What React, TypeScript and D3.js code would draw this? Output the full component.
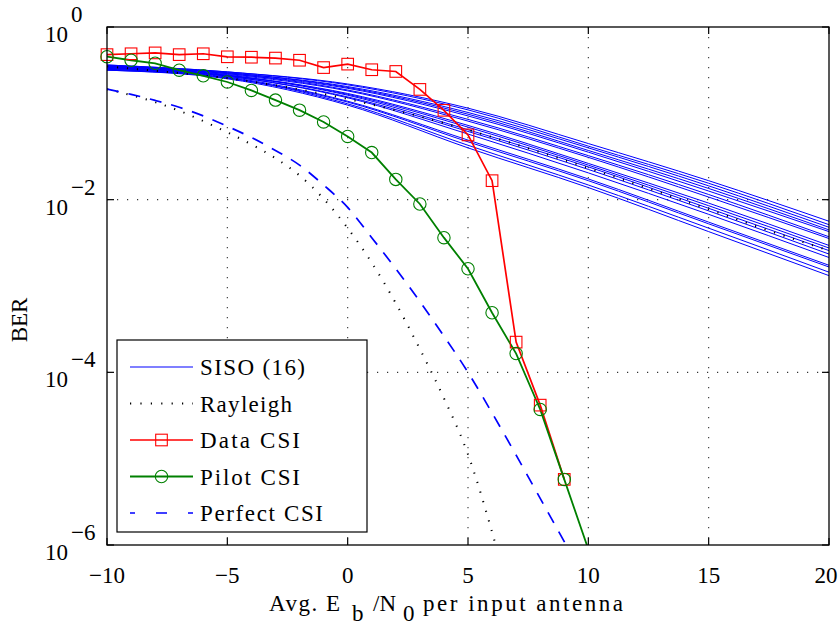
import React from "react";
import * as d3 from "d3";

// ---------- data (log10 of BER) ----------
const MARK_SNR = [-10, -9, -8, -7, -6, -5, -4, -3, -2, -1, 0, 1, 2, 3, 4, 5, 6, 7, 8, 9];
const DATA_CSI = [-0.32, -0.31, -0.3, -0.32, -0.31, -0.345, -0.35, -0.36, -0.385, -0.47, -0.43, -0.495, -0.515, -0.723, -0.965, -1.25, -1.78, -3.65, -4.38, -5.24];

const PILOT_SNR = [-10, -9, -8, -7, -6, -5, -4, -3, -2, -1, 0, 1, 2, 3, 4, 5, 6, 7, 8, 9, 10];
const PILOT_CSI = [-0.344, -0.385, -0.42, -0.5, -0.565, -0.637, -0.735, -0.847, -0.963, -1.1, -1.268, -1.454, -1.765, -2.05, -2.44, -2.8, -3.31, -3.783, -4.43, -5.24, -6.05];

const PERFECT_SNR = [-10, -9, -8, -7, -6, -5, -4, -3, -2, -1, 0, 1, 2, 3, 4, 5, 6, 7, 8, 9, 9.2];
const PERFECT_CSI = [-0.72, -0.78, -0.85, -0.93, -1.03, -1.15, -1.28, -1.43, -1.6, -1.83, -2.09, -2.44, -2.8, -3.18, -3.58, -4.0, -4.47, -4.96, -5.46, -5.96, -6.06];

const RAYLEIGH_DIV_SNR = [-10, -9, -8, -7, -6, -5, -4, -3, -2, -1, 0, 1, 2, 3, 4, 5, 6, 6.3];
const RAYLEIGH_DIV = [-0.72, -0.79, -0.87, -0.97, -1.09, -1.22, -1.36, -1.52, -1.72, -1.99, -2.33, -2.73, -3.2, -3.73, -4.3, -4.95, -5.85, -6.15];

const RAYLEIGH_SISO_SNR = [-10, -7.5, -5, -2.5, 0, 2.5, 5, 7.5, 10, 12.5, 15, 17.5, 20];
const RAYLEIGH_SISO = [-0.457, -0.52, -0.593, -0.699, -0.834, -1.0, -1.192, -1.406, -1.633, -1.87, -2.112, -2.358, -2.59];

const SISO_SNR = [-10, -5, 0, 5, 10, 15, 20];
const SISO_1 = [-0.44, -0.52, -0.66, -0.94, -1.35, -1.78, -2.25];
const SISO_2 = [-0.44, -0.52, -0.67, -0.96, -1.38, -1.81, -2.29];
const SISO_3 = [-0.45, -0.53, -0.69, -0.99, -1.4, -1.84, -2.32];
const SISO_4 = [-0.45, -0.53, -0.7, -1.01, -1.43, -1.87, -2.35];
const SISO_5 = [-0.45, -0.54, -0.71, -1.03, -1.45, -1.9, -2.37];
const SISO_6 = [-0.46, -0.54, -0.73, -1.07, -1.49, -1.94, -2.43];
const SISO_7 = [-0.46, -0.55, -0.74, -1.09, -1.51, -1.97, -2.45];
const SISO_8 = [-0.47, -0.56, -0.77, -1.14, -1.58, -2.04, -2.53];
const SISO_9 = [-0.47, -0.56, -0.78, -1.16, -1.6, -2.07, -2.56];
const SISO_10 = [-0.47, -0.56, -0.79, -1.19, -1.62, -2.1, -2.59];
const SISO_11 = [-0.48, -0.57, -0.81, -1.21, -1.65, -2.13, -2.63];
const SISO_12 = [-0.48, -0.57, -0.82, -1.24, -1.69, -2.17, -2.67];
const SISO_13 = [-0.49, -0.58, -0.86, -1.31, -1.76, -2.26, -2.76];
const SISO_14 = [-0.49, -0.59, -0.87, -1.33, -1.78, -2.28, -2.78];
const SISO_15 = [-0.5, -0.59, -0.89, -1.37, -1.83, -2.33, -2.84];
const SISO_16 = [-0.5, -0.6, -0.905, -1.4, -1.86, -2.37, -2.88];
const SISO_ALL = [SISO_1, SISO_2, SISO_3, SISO_4, SISO_5, SISO_6, SISO_7, SISO_8, SISO_9, SISO_10, SISO_11, SISO_12, SISO_13, SISO_14, SISO_15, SISO_16];

const X_TICKS = [-10, -5, 0, 5, 10, 15, 20];
const Y_TICK_EXP = [0, -2, -4, -6];
const LEGEND_LABELS = ["SISO (16)", "Rayleigh", "Data CSI", "Pilot CSI", "Perfect CSI"];
const LEGEND_WIDTHS = [105, 92, 100, 100, 123];

// ---------- layout ----------
const W = 838, H = 630;
const L = 107, R = 829, T = 27, B = 545;
const FONT = "Liberation Serif, DejaVu Serif, Times New Roman, serif";
const FS = 23;

const x = d3.scaleLinear().domain([-10, 20]).range([L, R]);
const y = d3.scaleLog().domain([1e-6, 1]).range([B, T]);

type P = [number, number];
const pts = (xs: number[], es: number[]): P[] => xs.map((v, i) => [v, es[i]]);
const lineLin = d3.line<P>().x(d => x(d[0])).y(d => y(Math.pow(10, d[1])));
const lineSmooth = d3.line<P>().x(d => x(d[0])).y(d => y(Math.pow(10, d[1]))).curve(d3.curveMonotoneX);

const fmtMinus = (n: number) => (n < 0 ? "\u2212" + Math.abs(n) : String(n));

export default function App() {
  const legendX = 117, legendY = 340, legendW = 250, legendH = 192;
  const rowY = (i: number) => 367 + i * 36.5;
  const s0 = 130, s1 = 193, sm = (s0 + s1) / 2;
  const txt = { fontFamily: FONT, fontSize: FS, fill: "#000" } as React.CSSProperties;

  return (
    <svg width={W} height={H} style={{ position: "absolute", left: 0, top: 0, background: "#fff" }}>
      <defs>
        <clipPath id="plot">
          <rect x={L} y={T} width={R - L} height={B - T} />
        </clipPath>
      </defs>
      <rect x={0} y={0} width={W} height={H} fill="#fff" />

      {/* grid */}
      {X_TICKS.slice(1, -1).map(t => (
        <line key={"gx" + t} x1={x(t)} x2={x(t)} y1={T} y2={B} stroke="#333" strokeWidth={1.1} strokeDasharray="1.2 8.8" />
      ))}
      {Y_TICK_EXP.slice(1, -1).map(e => (
        <line key={"gy" + e} x1={L} x2={R} y1={y(Math.pow(10, e))} y2={y(Math.pow(10, e))} stroke="#333" strokeWidth={1.1} strokeDasharray="1.2 8.8" />
      ))}

      <g clipPath="url(#plot)" fill="none">
        {SISO_ALL.map((s, i) => (
          <path key={"siso" + i} d={lineSmooth(pts(SISO_SNR, s)) || ""} stroke="#0000ff" strokeWidth={1} />
        ))}
        <path d={lineSmooth(pts(RAYLEIGH_SISO_SNR, RAYLEIGH_SISO)) || ""} stroke="#000" strokeWidth={2} strokeDasharray="1.2 8.8" />
        <path d={lineSmooth(pts(RAYLEIGH_DIV_SNR, RAYLEIGH_DIV)) || ""} stroke="#000" strokeWidth={2} strokeDasharray="1.2 8.8" />
        <path d={lineLin(pts(MARK_SNR, DATA_CSI)) || ""} stroke="#ff0000" strokeWidth={1.7} />
        <path d={lineLin(pts(PILOT_SNR, PILOT_CSI)) || ""} stroke="#008000" strokeWidth={1.8} />
        <path d={lineSmooth(pts(PERFECT_SNR, PERFECT_CSI)) || ""} stroke="#0000ff" strokeWidth={1.7} strokeDasharray="12 10" />
      </g>

      {/* markers */}
      <g fill="none">
        {MARK_SNR.map((s, i) => (
          <rect key={"sq" + i} x={x(s) - 5.8} y={y(Math.pow(10, DATA_CSI[i])) - 5.8} width={11.6} height={11.6} stroke="#ff0000" strokeWidth={1.1} />
        ))}
        {PILOT_SNR.filter(s => s <= 9).map((s, i) => (
          <circle key={"ci" + i} cx={x(s)} cy={y(Math.pow(10, PILOT_CSI[i]))} r={6.2} stroke="#008000" strokeWidth={1.1} />
        ))}
      </g>

      {/* frame and ticks */}
      <rect x={L} y={T} width={R - L} height={B - T} fill="none" stroke="#000" strokeWidth={1.3} />
      {X_TICKS.map(t => (
        <g key={"xt" + t}>
          <line x1={x(t)} x2={x(t)} y1={B} y2={B - 7} stroke="#000" strokeWidth={1.2} />
          <line x1={x(t)} x2={x(t)} y1={T} y2={T + 7} stroke="#000" strokeWidth={1.2} />
          <text x={t === 20 ? x(t) - 3 : x(t)} y={583} textAnchor="middle" style={txt}>{fmtMinus(t)}</text>
        </g>
      ))}
      {Y_TICK_EXP.map(e => {
        const yy = y(Math.pow(10, e));
        return (
          <g key={"yt" + e}>
            <line x1={L} x2={L + 7} y1={yy} y2={yy} stroke="#000" strokeWidth={1.2} />
            <line x1={R} x2={R - 7} y1={yy} y2={yy} stroke="#000" strokeWidth={1.2} />
            <text x={68} y={yy + 15} textAnchor="end" style={txt}>10</text>
            <text x={71} y={yy - 5} textAnchor="start" style={txt}>{fmtMinus(e)}</text>
          </g>
        );
      })}

      {/* axis labels */}
      <text transform={`translate(27,320) rotate(-90)`} textAnchor="middle" style={txt}>BER</text>
      <text x={269} y={611} style={txt} textLength={71}>Avg. E</text>
      <text x={352} y={621} style={txt}>b</text>
      <text x={373} y={611} style={txt}>/N</text>
      <text x={403} y={621} style={txt}>0</text>
      <text x={423} y={611} style={txt} textLength={200}>per input antenna</text>

      {/* legend */}
      <rect x={legendX} y={legendY} width={legendW} height={legendH} fill="#fff" stroke="#000" strokeWidth={1.2} />
      <line x1={s0} x2={s1} y1={rowY(0)} y2={rowY(0)} stroke="#0000ff" strokeWidth={1.2} />
      <line x1={s0} x2={s1} y1={rowY(1)} y2={rowY(1)} stroke="#000" strokeWidth={2} strokeDasharray="1.2 9.2" />
      <line x1={s0} x2={s1} y1={rowY(2)} y2={rowY(2)} stroke="#ff0000" strokeWidth={1.7} />
      <rect x={sm - 5.8} y={rowY(2) - 5.8} width={11.6} height={11.6} fill="none" stroke="#ff0000" strokeWidth={1.1} />
      <line x1={s0} x2={s1} y1={rowY(3)} y2={rowY(3)} stroke="#008000" strokeWidth={1.8} />
      <circle cx={sm} cy={rowY(3)} r={6.2} fill="none" stroke="#008000" strokeWidth={1.1} />
      <line x1={s0} x2={s1} y1={rowY(4)} y2={rowY(4)} stroke="#0000ff" strokeWidth={1.3} strokeDasharray="5 21 11 21 5" />
      {LEGEND_LABELS.map((lab, i) => (
        <text key={lab} x={200} y={rowY(i) + 8} style={txt} textLength={LEGEND_WIDTHS[i]}>{lab}</text>
      ))}
    </svg>
  );
}
